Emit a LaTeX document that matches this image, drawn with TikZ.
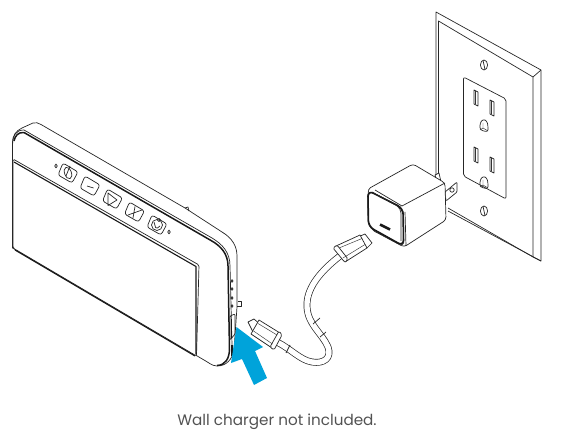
\documentclass[tikz,border=0pt]{standalone}
\usepackage{fontspec}
\setmainfont{Poppins}
\usepackage{xcolor}
\usetikzlibrary{arrows.meta,positioning}
\definecolor{arrowblue}{HTML}{00A3DA}
\begin{document}
\begin{tikzpicture}[x=1pt,y=-1pt, line join=round,
  ln/.style={draw=black!85, line width=0.7pt},
  hv/.style={draw=black!90, line width=1.5pt},
  fn/.style={draw=black!80, line width=0.45pt},
  btn/.style={ln, rounded corners=2.5pt},
  tube/.style={draw=black!85, double=white, double distance=5.4pt, line width=0.7pt},
  caption/.style={font=\fontsize{15.2}{17}\selectfont, text=black!68, inner sep=0pt}]
\useasboundingbox (0,0) rectangle (562,438);
% wall plate
\draw[ln] (436,177) -- (436,12) -- (541,70) -- (541,261) -- (533,257);
\draw[ln] (438.5,179) -- (438.5,21) -- (533,77) -- (533,257) -- (448,208);
\draw[ln] (448,211) -- (541,261);
\draw[ln] (533,77) -- (541,70);
\draw[ln, rounded corners=2pt] (463.5,77) -- (506,99) -- (506,199) -- (463.5,176) -- cycle;
\foreach \sx/\sy in {484/65, 484/211} {
  \draw[ln] (\sx,\sy) ellipse (3.6 and 5);
  \draw[ln] (\sx-1,\sy-4.5) -- (\sx+1,\sy+4.5);
}
\foreach \hx/\hy in {476/90, 492/100, 476/147, 492/157} {
  \draw[ln] (\hx-2,\hy) -- (\hx+2,\hy+2) -- (\hx+2,\hy+16) -- (\hx-2,\hy+14) -- cycle;
  \draw[fn] (\hx-0.6,\hy+1) -- (\hx-0.6,\hy+14.5);
}
\foreach \gx/\gy in {484/125, 484/182} {
  \draw[ln, rounded corners=2.5pt] (\gx-4,\gy+5) -- (\gx-4,\gy-2) -- (\gx-1,\gy-6) -- (\gx+3,\gy-4) -- (\gx+4,\gy+1) -- (\gx+4,\gy+7) -- cycle;
  \draw[fn] (\gx-1,\gy-2) -- (\gx-1,\gy+3) -- (\gx-4,\gy+5) (\gx-1,\gy+3) -- (\gx+4,\gy+6);
}
% charger
\draw[ln, fill=white] (435,175) -- (439,173) -- (441,182) -- (437,182) -- cycle;
\draw[ln, fill=white, rounded corners=1pt] (445,192) -- (457,182) -- (457,192) -- (446,201) -- cycle;
\draw[ln] (452,190) circle (2.2);
\draw[ln, fill=white, rounded corners=3pt] (368,189) -- (413,164) -- (445,183) -- (446,220) -- (404,247) -- (372,230) -- cycle;
\draw[ln] (375,190) -- (402,206) -- (445,183);
\draw[ln] (405,212) -- (406,246);
\draw[ln, fill=white, rounded corners=6pt] (367.5,190) -- (403.5,208) -- (404,247) -- (368,227) -- cycle;
\draw[hv, rounded corners=6pt] (368,190.5) -- (403,208.5) -- (403.5,246) -- (368.5,226.5) -- cycle;
\draw[ln, rounded corners=5pt] (372,192) -- (401,208) -- (401,241);
\draw[hv, line width=2.6pt] (380,224.5) -- (390,229.5);
% device
\draw[ln, fill=white] (12.5,248) -- (12.5,143) .. controls (12.5,135) and (16,131) .. (22,128) -- (33,123) .. controls (36,122) and (38,123) .. (41,124.5) -- (185,208) -- (222,232) .. controls (232,238) and (237,246) .. (237,256) -- (237,307) -- (234,350) .. controls (232,360) and (226,366) .. (217,366) .. controls (212,366) and (208,362) .. (204,360) -- cycle;
\draw[ln] (185,208) -- (188,207) -- (189,211);
\draw[ln] (12.5,145) .. controls (13,135) and (16,130) .. (24,130) -- (212,238) .. controls (222,244) and (230,252) .. (230,266) -- (232,345);
\draw[hv] (14,141) .. controls (15,136) and (18,132) .. (24,132.5) -- (211,240.5) .. controls (221,246) and (228,254) .. (228,266) -- (229.5,350) .. controls (229,358) and (226,365) .. (217,365.5);
\draw[ln, fill=white, rounded corners=1.5pt] (13,159) -- (199,265) -- (196.5,356) -- (13,248) -- cycle;
\draw[hv, line width=1.1pt] (14,162) -- (196,266.5) -- (196,354);
\draw[hv, line width=1.1pt] (15,250) -- (195,356);
\foreach \bx/\by in {68/173, 90/186, 112.5/199, 134.5/212, 157/225}
  \draw[btn] (\bx-5,\by-10) -- (\bx+10,\by-1) -- (\bx+4,\by+10) -- (\bx-10,\by+2) -- cycle;
\draw[ln, rotate around={20:(68,173)}] (68,173) ellipse (3.4 and 6);
\draw[ln] (70,166) -- (66,176);
\draw[ln] (87,186) -- (93.5,188);
\draw[ln] (108,193) -- (117,200) -- (108,205.5) -- cycle;
\draw[ln] (128,215) -- (142,210) (135,206.5) -- (133,218);
\draw[ln] (157,225) circle (5.5);
\draw[ln, rounded corners=1.5pt] (154,222) -- (156,229) -- (160,226);
\draw[fn] (159,220) circle (1.8);
\draw[ln] (56,166) ellipse (1.3 and 1.9);
\draw[ln] (169,232) ellipse (1.3 and 1.9);
\foreach \ly in {281,289,298,306}
  \draw[ln] (232,\ly) ellipse (1 and 1.4);
\draw[ln, rounded corners=1pt] (230,316) -- (235,314) -- (235,334) -- (230,340) -- cycle;
\draw[hv] (231.3,319) -- (231.3,338);
\draw[hv, line width=2pt] (232,345) -- (232,356);
\draw[ln] (238,302) -- (238,301) -- (241,301) -- (241,306) -- (237,306);
% cable
\draw[tube] (340,256) .. controls (318,273) and (306,290) .. (307,307) .. controls (308,325) and (322,333) .. (328,347) .. controls (332,358) and (324,364) .. (312,362) .. controls (300,360) and (291,349) .. (277,342);
\draw[ln] (313,324) -- (320,318) (320,337) -- (326,332);
\draw[ln] (290,345) -- (286,353);
\draw[ln, fill=white] (358,237) -- (365,234) -- (372,243) -- (367,248) -- cycle;
\draw[ln, fill=white] (336,246) -- (360,235) -- (367,248) -- (345,262) -- cycle;
\draw[ln, fill=white, rounded corners=1.5pt] (333,248) -- (337,245) -- (348,259) -- (345,262.5) -- cycle;
\draw[fn] (339,248) -- (362,238.5) (343,258) -- (365,244.5);
\draw[ln, fill=white] (248,322) -- (254,319) -- (262,326) -- (255,336) -- cycle;
\draw[ln, fill=white] (259,320) -- (280,333) -- (272,348) -- (251,334) -- cycle;
\draw[ln, fill=white, rounded corners=1.5pt] (279,331) -- (282,335) -- (274,350) -- (270,347) -- cycle;
\draw[fn] (258,323.5) -- (277,335) (253.5,331) -- (272.5,344);
% blue arrow
\fill[arrowblue] (236.5,327) -- (263,347) -- (255,351) -- (267,378) -- (254,385) -- (242,359) -- (231,363) -- cycle;
% caption
\node[caption] (note) at (277,422) {Wall charger not included.};
\end{tikzpicture}
\end{document}
